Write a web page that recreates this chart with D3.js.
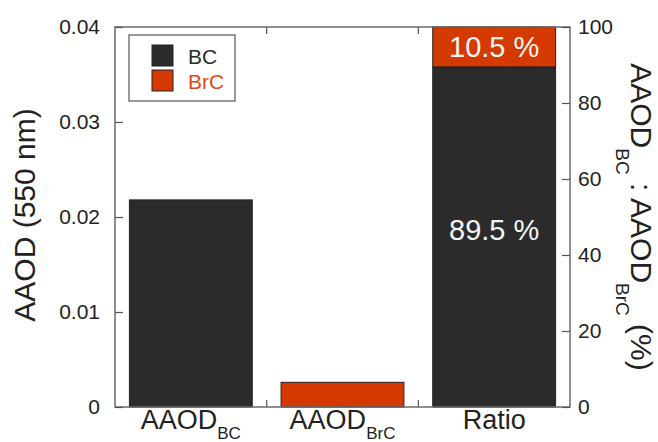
<!DOCTYPE html>
<html>
<head>
<meta charset="utf-8">
<script src="https://cdn.jsdelivr.net/npm/d3@7"></script>
<style>
  body { margin: 0; background: #fff; }
  text { font-family: "Liberation Sans", Arial, sans-serif; }
</style>
</head>
<body>
<div id="chart"></div>
<script>
// categories on the x axis: [main, subscript]
const categories = [["AAOD", "BC"], ["AAOD", "BrC"], ["Ratio", ""]];
// AAOD values at 550 nm
const aaodKeys = ["BC", "BrC"];
const aaodValues = [0.0218, 0.0026];
// share of absorption (%)
const ratioKeys = ["BC", "BrC"];
const ratioValues = [89.5, 10.5];
const leftTicks = [0, 0.01, 0.02, 0.03, 0.04];
const rightTicks = [0, 20, 40, 60, 80, 100];

const colors = { BC: "#2b2b2b", BrC: "#d43a00" };

const margin = { left: 115, right: 88, top: 27, bottom: 35 };
const W = 658, H = 442;
const width = W - margin.left - margin.right;
const height = H - margin.top - margin.bottom;

const svg = d3.select("#chart").append("svg")
    .attr("width", W)
    .attr("height", H);

const g = svg.append("g")
    .attr("transform", "translate(" + margin.left + "," + margin.top + ")");

// Scales
const x = d3.scaleBand()
    .domain(d3.range(categories.length))
    .range([0, width])
    .paddingInner(0.19)
    .paddingOuter(0.095);
const xBand = d3.scaleBand()
    .domain(d3.range(categories.length))
    .range([0, width]);
const yL = d3.scaleLinear().domain([0, 0.04]).range([height, 0]);
const yR = d3.scaleLinear().domain([0, 100]).range([height, 0]);

// AAOD bars
g.selectAll(".aaod")
    .data(aaodValues)
    .enter().append("rect")
    .attr("class", "aaod")
    .attr("x", (d, i) => x(i))
    .attr("width", x.bandwidth())
    .attr("y", d => yL(d))
    .attr("height", d => height - yL(d))
    .attr("fill", (d, i) => colors[aaodKeys[i]])
    .attr("stroke", "#222")
    .attr("stroke-width", 1);

// Ratio stacked bar
let cum = 0;
const stacked = ratioValues.map((v, i) => {
    const s = { key: ratioKeys[i], y0: cum, y1: cum + v, v: v };
    cum += v;
    return s;
});
g.selectAll(".ratio")
    .data(stacked)
    .enter().append("rect")
    .attr("class", "ratio")
    .attr("x", x(2))
    .attr("width", x.bandwidth())
    .attr("y", d => yR(d.y1))
    .attr("height", d => yR(d.y0) - yR(d.y1))
    .attr("fill", d => colors[d.key])
    .attr("stroke", "#222")
    .attr("stroke-width", 1);

g.selectAll(".ratio-label")
    .data(stacked)
    .enter().append("text")
    .attr("x", x(2) + x.bandwidth() / 2)
    .attr("y", (d, i) => (i === 0 ? yR(46.5) : yR((d.y0 + d.y1) / 2)) + 10)
    .attr("text-anchor", "middle")
    .attr("font-size", "29px")
    .attr("fill", "#f4f4f4")
    .text(d => d.v.toFixed(1) + " %");

// Frame
g.append("rect")
    .attr("width", width)
    .attr("height", height)
    .attr("fill", "none")
    .attr("stroke", "#6a6a6a")
    .attr("stroke-width", 1.5);

// Left axis (ticks inside)
const axisL = g.append("g")
    .call(d3.axisLeft(yL).tickValues(leftTicks).tickSize(-8).tickPadding(15)
        .tickFormat(d => d === 0 ? "0" : d3.format(".2f")(d)));
axisL.select(".domain").remove();
axisL.selectAll("line").attr("stroke", "#555").attr("stroke-width", 1.2);
axisL.selectAll("text").attr("font-size", "21px").attr("fill", "#222");

// Right axis (ticks inside)
const axisR = g.append("g")
    .attr("transform", "translate(" + width + ",0)")
    .call(d3.axisRight(yR).tickValues(rightTicks).tickSize(-8).tickPadding(8));
axisR.select(".domain").remove();
axisR.selectAll("line").attr("stroke", "#555").attr("stroke-width", 1.2);
axisR.selectAll("text").attr("font-size", "21px").attr("fill", "#222");

// Category dividers on top and bottom
[1, 2].forEach(i => {
    const xp = xBand(i);
    g.append("line").attr("x1", xp).attr("x2", xp).attr("y1", height).attr("y2", height - 7)
        .attr("stroke", "#555").attr("stroke-width", 1.2);
    g.append("line").attr("x1", xp).attr("x2", xp).attr("y1", 0).attr("y2", 7)
        .attr("stroke", "#555").attr("stroke-width", 1.2);
});

// Category labels
const catLab = g.selectAll(".cat")
    .data(categories)
    .enter().append("text")
    .attr("class", "cat")
    .attr("x", (d, i) => xBand(i) + xBand.bandwidth() / 2)
    .attr("y", height + 22)
    .attr("text-anchor", "middle")
    .attr("font-size", "27px")
    .attr("fill", "#222");
catLab.append("tspan").text(d => d[0]);
catLab.append("tspan")
    .attr("dy", 10)
    .attr("font-size", "17px")
    .text(d => d[1]);

// Left axis title
svg.append("text")
    .attr("transform", "translate(35,215) rotate(-90)")
    .attr("text-anchor", "middle")
    .attr("font-size", "30px")
    .attr("fill", "#222")
    .text("AAOD (550 nm)");

// Right axis title
const rt = svg.append("text")
    .attr("transform", "translate(631,217) rotate(90)")
    .attr("text-anchor", "middle")
    .attr("font-size", "30px")
    .attr("fill", "#222");
rt.append("tspan").text("AAOD");
rt.append("tspan").attr("dy", 15).attr("font-size", "19px").text("BC");
rt.append("tspan").attr("dy", -15).text(" : AAOD");
rt.append("tspan").attr("dy", 15).attr("font-size", "19px").text("BrC");
rt.append("tspan").attr("dy", -15).text(" (%)");

// Legend
const legend = g.append("g").attr("transform", "translate(14,8)");
legend.append("rect")
    .attr("width", 106)
    .attr("height", 66)
    .attr("fill", "#fff")
    .attr("stroke", "#555")
    .attr("stroke-width", 1.2);
const li = legend.selectAll(".li")
    .data(aaodKeys)
    .enter().append("g")
    .attr("transform", (d, i) => "translate(23," + (10 + i * 25) + ")");
li.append("rect")
    .attr("width", 21)
    .attr("height", 21)
    .attr("fill", d => colors[d])
    .attr("stroke", "#222");
li.append("text")
    .attr("x", 36)
    .attr("y", 19)
    .attr("font-size", "21px")
    .attr("fill", d => d === "BC" ? "#2b2b2b" : "#e04a20")
    .text(d => d);
</script>
</body>
</html>
